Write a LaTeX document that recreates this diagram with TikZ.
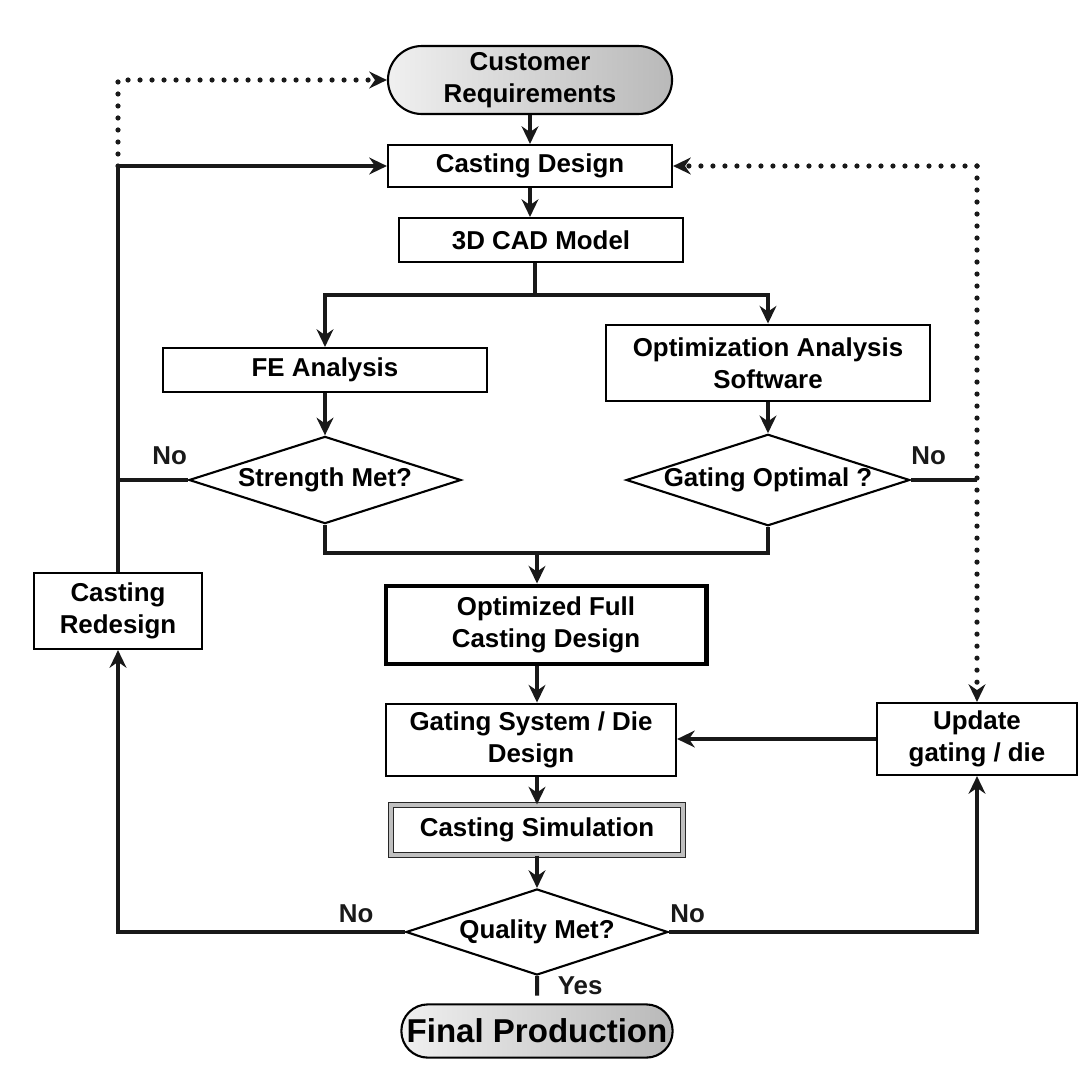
\documentclass[tikz,border=0pt]{standalone}
\usepackage{fontspec}
\setmainfont{Liberation Sans}
\usetikzlibrary{shapes.geometric,arrows.meta,positioning,calc}
\tikzset{
  basebox/.style={rectangle,draw=black,line width=1.5pt,align=center,font=\fontsize{18.4}{22.5}\selectfont\bfseries,inner sep=1pt},
  procnode/.style={basebox,minimum width=7.1cm,minimum height=1.1cm},
  termnode/.style={basebox,left color=gray!12,right color=gray!55,minimum width=7.1cm,minimum height=1.7cm,rounded corners=0.85cm},
  decnode/.style={diamond,draw=black,line width=1.5pt,aspect=3.1,inner sep=0pt,font=\fontsize{18.4}{22.5}\selectfont\bfseries,minimum width=6.8cm,minimum height=2.18cm},
  optnode/.style={basebox,line width=3.5pt},
  simnode/.style={basebox,draw=black!85,double=gray!50,double distance=3pt,line width=0.8pt},
  arr/.style={->,>={Stealth[length=0.44cm,width=0.42cm]},line width=0.1cm,color=black!90},
  flowline/.style={line width=0.1cm,color=black!90},
  dotarr/.style={->,>={Stealth[length=0.44cm,width=0.42cm]},line width=0.13cm,dash pattern=on 0pt off 0.3cm,line cap=round,color=black!90},
  yesno/.style={font=\fontsize{18.4}{22.5}\selectfont\bfseries,inner sep=2pt}
}

\begin{document}
\begin{tikzpicture}[x=0.025cm,y=-0.025cm]
  \useasboundingbox (0,0) rectangle (1091,1073);

  % main column
  \node[termnode] (cust) at (530,80) {Customer\\Requirements};
  \node[procnode,minimum height=1.05cm] (cdes) at (530,166) {Casting Design};
  \node[procnode] (cad) at (541,240) {3D CAD Model};

  % two analysis branches
  \node[procnode,minimum width=8.1cm] (fea) at (325,370) {FE Analysis};
  \node[procnode,minimum width=8.08cm,minimum height=1.92cm] (oas) at (768,363) {Optimization Analysis\\Software};
  \node[decnode] (smet) at (325,480) {Strength Met?};
  \node[decnode] (gopt) at (768,480) {Gating Optimal ?};

  % side boxes
  \node[basebox,minimum width=4.18cm,minimum height=1.9cm] (cred) at (118,611) {Casting\\Redesign};
  \node[basebox,minimum width=4.98cm,minimum height=1.8cm] (upd) at (977,739) {Update\\gating / die};

  % lower column
  \node[optnode,minimum width=8.0cm,minimum height=1.95cm] (ofcd) at (546,625) {Optimized Full\\Casting Design};
  \node[basebox,minimum width=7.25cm,minimum height=1.82cm] (gsd) at (531,740) {Gating System / Die\\Design};
  \node[simnode,minimum width=7.3cm,minimum height=1.25cm] (csim) at (537,830) {Casting Simulation};
  \node[decnode,minimum width=6.55cm,minimum height=2.15cm] (qmet) at (537,932) {Quality Met?};
  \node[termnode,minimum width=6.78cm,minimum height=1.33cm,rounded corners=0.66cm,font=\fontsize{23.5}{26}\selectfont\bfseries] (fprod) at (537,1031) {Final Production};

  \coordinate (split) at (535,295);
  \coordinate (merge) at (537,553);

  \draw[arr] (cust) -- (cdes);
  \draw[arr] (cdes.south) -- (cdes.south |- cad.north);
  \draw[flowline] (cad.south -| split) -- (split);
  \draw[arr] (split) -| (fea.north);
  \draw[arr] (split) -| (oas.north);
  \draw[arr] (fea) -- (smet);
  \draw[arr] (oas) -- (gopt);

  % feedback loops
  \draw[flowline] (smet.west) -- (smet.west -| cred.north) node[yesno,pos=0.26,above,yshift=0.25cm]{No};
  \draw[arr] (cred.north) |- (cdes.west);
  \draw[dotarr] (cdes.west -| cred.north) |- (cust.west);
  \draw[flowline] (gopt.east) -- (gopt.east -| upd.north) node[yesno,pos=0.27,above,yshift=0.25cm]{No};
  \draw[dotarr] (upd.north |- cdes.east) -- (cdes.east);
  \draw[dotarr] (upd.north |- cdes.east) -- (upd.north);

  \draw[flowline] (smet.south) |- (merge) -| (gopt.south);
  \draw[arr] (merge) -- (merge |- ofcd.north);
  \draw[arr] (ofcd.south -| merge) -- (merge |- gsd.north);
  \draw[arr] (gsd.south -| merge) -- (csim.north);
  \draw[arr] (csim) -- (qmet);
  \draw[arr] (upd.west) -- (upd.west -| gsd.east);

  \draw[arr] (qmet.west) -| (cred.south) node[yesno,pos=0.085,above,yshift=0.12cm]{No};
  \draw[arr] (qmet.east) -| (upd.south) node[yesno,pos=0.03,above,yshift=0.12cm]{No};
  \draw[flowline] (qmet.south) -- ($(qmet.south)!0.72!(fprod.north)$) node[yesno,midway,right,xshift=0.4cm]{Yes};
\end{tikzpicture}
\end{document}
